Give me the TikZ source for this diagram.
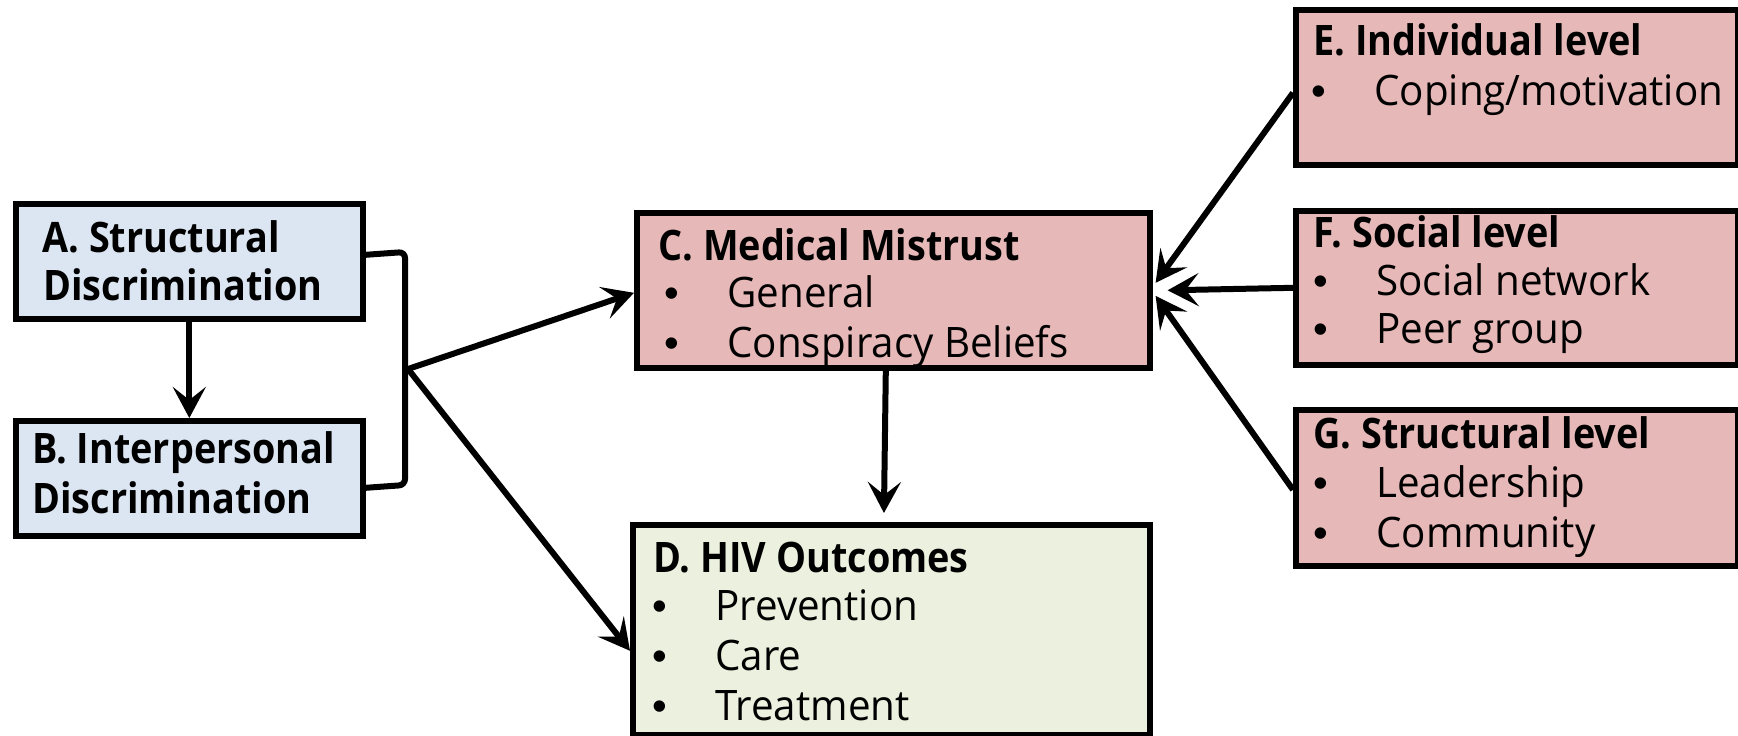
\documentclass[tikz,border=0pt]{standalone}
\usepackage{fontspec}
\setmainfont{Open Sans}[UprightFeatures={FakeStretch=0.96}, BoldFeatures={FakeStretch=0.9}]
\newfontfamily\bulletfont{Liberation Sans}
\usetikzlibrary{arrows.meta}
\definecolor{bluefill}{HTML}{DCE6F2}
\definecolor{pinkfill}{HTML}{E6B9B8}
\definecolor{greenfill}{HTML}{EBF1DE}
\tikzset{
  box/.style={draw=black, line width=2.8pt, rectangle, anchor=north west, inner sep=0pt},
  txt/.style={anchor=base west, inner sep=0pt, font=\fontsize{21}{24}\selectfont},
  ttl/.style={txt, font=\fontsize{21}{24}\selectfont\bfseries},
  bul/.style={anchor=base west, inner sep=0pt, font=\fontsize{21}{24}\bulletfont},
  conn/.style={line width=3pt, -{Stealth[length=15.5pt,width=16.5pt,inset=6.5pt]}},
  plain/.style={line width=3pt},
}
\begin{document}
\begin{tikzpicture}[x=0.5pt,y=-0.5pt]
\useasboundingbox (0,0) rectangle (1738,735);
% boxes
\node[box, fill=bluefill, minimum width=173.5pt, minimum height=57.5pt] (A) at (13,201) {};
\node[box, fill=bluefill, minimum width=173.5pt, minimum height=57.5pt] (B) at (13,418) {};
\node[box, fill=pinkfill, minimum width=256.5pt, minimum height=77.5pt] (C) at (634,210) {};
\node[box, fill=greenfill, minimum width=258.5pt, minimum height=105pt] (D) at (630,522) {};
\node[box, fill=pinkfill, minimum width=221pt, minimum height=77.5pt] (E) at (1293,7) {};
\node[box, fill=pinkfill, minimum width=221pt, minimum height=77pt] (F) at (1293,208) {};
\node[box, fill=pinkfill, minimum width=221pt, minimum height=78pt] (G) at (1293,407) {};
% texts A, B
\node[ttl] (a1) at (42,252) {A. Structural};
\node[ttl] (a2) at (43,300) {Discrimination};
\node[ttl] (b1) at (32,463) {B. Interpersonal};
\node[ttl] (b2) at (32,513) {Discrimination};
% C
\node[ttl] (c0) at (658,260) {C. Medical Mistrust};
\node[bul] (cb1) at (664,307) {•};
\node[txt] (c1) at (727,307) {General};
\node[bul] (cb2) at (664,357) {•};
\node[txt] (c2) at (727,357) {Conspiracy Beliefs};
% D
\node[ttl] (d0) at (653,572) {D. HIV Outcomes};
\node[bul] (db1) at (652,620) {•};
\node[txt] (d1) at (715,620) {Prevention};
\node[bul] (db2) at (652,670) {•};
\node[txt] (d2) at (715,670) {Care};
\node[bul] (db3) at (652,720) {•};
\node[txt] (d3) at (715,720) {Treatment};
% E
\node[ttl] (e0) at (1313,55) {E. Individual level};
\node[bul] (eb1) at (1311,105) {•};
\node[txt] (e1) at (1374,105) {Coping/motivation};
% F
\node[ttl] (f0) at (1313,247) {F. Social level};
\node[bul] (fb1) at (1313,295) {•};
\node[txt] (f1) at (1376,295) {Social network};
\node[bul] (fb2) at (1313,343) {•};
\node[txt] (f2) at (1376,343) {Peer group};
% G
\node[ttl] (g0) at (1313,448) {G. Structural level};
\node[bul] (gb1) at (1313,497) {•};
\node[txt] (g1) at (1376,497) {Leadership};
\node[bul] (gb2) at (1313,547) {•};
\node[txt] (g2) at (1376,547) {Community};
% connectors
\coordinate (bt) at (405,252);
\coordinate (bb) at (405,485);
\coordinate (J) at (408,369);
\draw[conn] (A.south) -- (B.north);
\draw[plain, rounded corners=3pt] ([yshift=3.25pt]A.east) -- (bt) -- (bb) -- ([yshift=-4.75pt]B.east);
\draw[conn] (J) -- ([yshift=-1.25pt]C.west);
\draw[conn] (J) -- ([yshift=-10.5pt]D.west);
\draw[conn, shorten >=4.5pt] ([xshift=-3.75pt]C.south) -- ([xshift=-3.75pt]D.north);
\draw[conn] ([yshift=-2.75pt]E.west) -- ([xshift=1.5pt,yshift=3.75pt]C.east);
\draw[conn] (F.west) -- ([xshift=7.5pt]C.east);
\draw[conn] ([yshift=-1pt]G.west) -- ([xshift=1.5pt,yshift=-2.75pt]C.east);
\end{tikzpicture}
\end{document}
